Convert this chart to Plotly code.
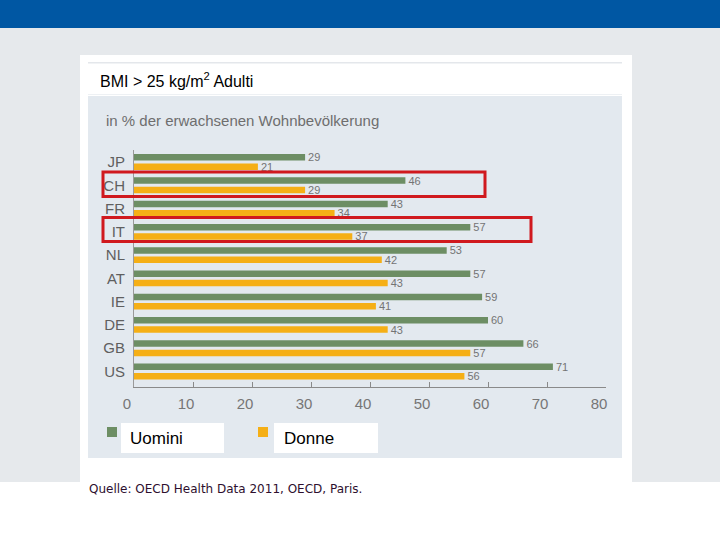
import plotly.graph_objects as go

# ---------------- data ----------------
countries = ["JP", "CH", "FR", "IT", "NL", "AT", "IE", "DE", "GB", "US"]
men = [29, 46, 43, 57, 53, 57, 59, 60, 66, 71]
women = [21, 29, 34, 37, 42, 43, 41, 43, 57, 56]
series_names = ["Uomini", "Donne"]
x_ticks = [0, 10, 20, 30, 40, 50, 60, 70, 80]
title_text = "BMI > 25 kg/m<sup>2</sup> Adulti"
subtitle_text = "in % der erwachsenen Wohnbevölkerung"
source_text = "Quelle: OECD Health Data 2011, OECD, Paris."

# ---------------- style ----------------
GREEN = "#6D8E64"
ORANGE = "#F5AF16"
RED = "#D0191E"
W, H = 720, 540
PL, PR, PT, PB = 134, 606, 150, 387  # plot area in pixels


def px_x(p):
    return (p - PL) / (PR - PL)


def px_y(p):
    return (PB - p) / (PB - PT)


def rect(x0, y0, x1, y1, fill=None, line=None, lw=0, layer="below"):
    d = dict(type="rect", xref="paper", yref="paper",
             x0=px_x(x0), x1=px_x(x1), y0=px_y(y1), y1=px_y(y0), layer=layer)
    d["fillcolor"] = fill if fill else "rgba(0,0,0,0)"
    d["line"] = dict(color=line if line else "rgba(0,0,0,0)", width=lw)
    return d


fig = go.Figure()
fig.add_trace(go.Bar(
    y=countries, x=men, name=series_names[0], orientation="h",
    marker=dict(color=GREEN, line=dict(width=0)),
    text=men, textposition="outside", cliponaxis=False, constraintext="none",
    textfont=dict(family="Liberation Sans", size=11, color="#747474"),
))
fig.add_trace(go.Bar(
    y=countries, x=women, name=series_names[1], orientation="h",
    marker=dict(color=ORANGE, line=dict(width=0)),
    text=women, textposition="outside", cliponaxis=False, constraintext="none",
    textfont=dict(family="Liberation Sans", size=11, color="#747474"),
))

shapes = [
    rect(0, 28, W, 482, fill="#E6E9EC"),
    rect(0, 0, W, 28, fill="#0057A3"),
    rect(80, 55, 632, 482, fill="#FFFFFF"),
    rect(88, 62, 622, 63.5, fill="#E4E7EB"),
    rect(88, 94, 622, 95, fill="#EEF1F4"),
    rect(88, 96, 622, 458, fill="#E3E9EF"),
    # legend
    rect(107, 427, 117, 437, fill=GREEN),
    rect(121, 423, 224, 453, fill="#FFFFFF"),
    rect(258, 427, 268, 437, fill=ORANGE),
    rect(274, 423, 378, 453, fill="#FFFFFF"),
    # highlight boxes
    rect(103, 172, 485, 196.5, line=RED, lw=3, layer="above"),
    rect(103, 217.5, 531, 241.5, line=RED, lw=3, layer="above"),
]

annotations = [
    dict(text=title_text, x=px_x(98), y=px_y(80), xref="paper", yref="paper",
         xanchor="left", yanchor="middle", showarrow=False,
         font=dict(family="Liberation Sans", size=16, color="#000000")),
    dict(text=subtitle_text, x=px_x(104), y=px_y(121), xref="paper", yref="paper",
         xanchor="left", yanchor="middle", showarrow=False,
         font=dict(family="Liberation Sans", size=15, color="#6E6E6E")),
    dict(text=series_names[0], x=px_x(128), y=px_y(438), xref="paper", yref="paper",
         xanchor="left", yanchor="middle", showarrow=False,
         font=dict(family="Liberation Sans", size=17, color="#000000")),
    dict(text=series_names[1], x=px_x(282), y=px_y(438), xref="paper", yref="paper",
         xanchor="left", yanchor="middle", showarrow=False,
         font=dict(family="Liberation Sans", size=17, color="#000000")),
    dict(text=source_text, x=px_x(87), y=px_y(489), xref="paper", yref="paper",
         xanchor="left", yanchor="middle", showarrow=False,
         font=dict(family="DejaVu Sans", size=12, color="#2E0F2E")),
]

fig.update_layout(
    width=W, height=H,
    margin=dict(l=PL, r=W - PR, t=PT, b=H - PB, pad=0),
    paper_bgcolor="#FFFFFF",
    plot_bgcolor="rgba(0,0,0,0)",
    barmode="group", bargap=0.2, bargroupgap=0.3,
    showlegend=False,
    shapes=shapes,
    annotations=annotations,
    xaxis=dict(range=[0, 80], tickvals=x_ticks, ticktext=[str(t) for t in x_ticks],
               showgrid=False, zeroline=False,
               showline=True, linecolor="#8A8A8A", linewidth=1,
               ticks="inside", ticklen=5, tickcolor="#8A8A8A",
               ticklabelshift=-7, ticklabelstandoff=3,
               tickfont=dict(family="Liberation Sans", size=15, color="#767676"),
               fixedrange=True),
    yaxis=dict(type="category", categoryorder="array", categoryarray=countries,
               range=[9.665, -0.515], showgrid=False, zeroline=False,
               showline=True, linecolor="#9A9A9A", linewidth=1,
               ticks="", ticklabelstandoff=5,
               tickfont=dict(family="Liberation Sans", size=15, color="#5F5F5F"),
               fixedrange=True),
)

fig.write_html(
    "out.html",
    config={"displayModeBar": False},
    post_script="document.body.style.margin='0';document.body.style.padding='0';",
)
